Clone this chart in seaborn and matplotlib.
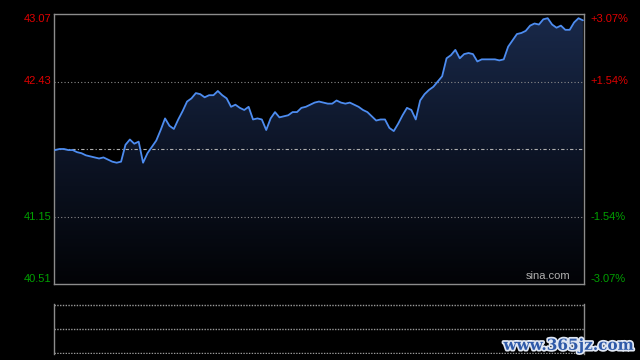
import numpy as np
import pandas as pd
import matplotlib
matplotlib.use("Agg")
import matplotlib.pyplot as plt
import matplotlib.patheffects as pe
import seaborn as sns
from matplotlib.colors import LinearSegmentedColormap

# ---- data ----
minutes = list(range(0, 241, 2))
prices = [
    41.78, 41.79, 41.79, 41.78, 41.78, 41.76, 41.75, 41.73, 41.72, 41.71,
    41.70, 41.71, 41.69, 41.67, 41.66, 41.67, 41.83, 41.88, 41.84, 41.86,
    41.66, 41.75, 41.81, 41.87, 41.97, 42.08, 42.01, 41.98, 42.07, 42.15,
    42.24, 42.27, 42.32, 42.31, 42.28, 42.30, 42.30, 42.34, 42.30, 42.27,
    42.19, 42.21, 42.18, 42.16, 42.19, 42.07, 42.08, 42.07, 41.97, 42.08,
    42.14, 42.09, 42.10, 42.11, 42.14, 42.14, 42.18, 42.19, 42.21, 42.23,
    42.24, 42.23, 42.22, 42.22, 42.25, 42.23, 42.22, 42.23, 42.21, 42.19,
    42.16, 42.14, 42.10, 42.06, 42.07, 42.07, 41.99, 41.96, 42.03, 42.11,
    42.18, 42.16, 42.07, 42.25, 42.31, 42.35, 42.38, 42.43, 42.48, 42.65,
    42.68, 42.73, 42.65, 42.69, 42.70, 42.69, 42.62, 42.64, 42.64, 42.64,
    42.64, 42.63, 42.64, 42.76, 42.82, 42.88, 42.89, 42.91, 42.96, 42.98,
    42.97, 43.02, 43.03, 42.97, 42.94, 42.96, 42.92, 42.92, 42.99, 43.03,
    43.01,
]
left_ticks = [43.07, 42.43, 41.79, 41.15, 40.51]
left_labels = ["43.07", "42.43", "", "41.15", "40.51"]
right_labels = ["+3.07%", "+1.54%", "", "-1.54%", "-3.07%"]
tick_colors = ["#e00000", "#e00000", None, "#00a000", "#00a000"]

df = pd.DataFrame({"minute": minutes, "price": prices})

sns.set_theme(style="dark")
plt.rcParams["font.family"] = ["Liberation Sans", "DejaVu Sans"]

fig = plt.figure(figsize=(6.4, 3.6), dpi=100, facecolor="black")
ax = fig.add_axes([54 / 640, 1 - 284 / 360, 530 / 640, 270 / 360])
ax2 = fig.add_axes([54 / 640, 1 - 354 / 360, 530 / 640, 50 / 360])

ymin, ymax = left_ticks[-1], left_ticks[0]
xmin, xmax = -0.5, 240.5

for a in (ax, ax2):
    a.set_facecolor("black")
    a.set_xticks([])
    a.set_yticks([])
    a.set_xlabel("")
    a.set_ylabel("")
    a.grid(False)

# gradient fill under the line (dark navy at top, fading to black)
cmap = LinearSegmentedColormap.from_list("g", ["#19294a", "#0d1527", "#020306"])
grad = np.linspace(0, 1, 256).reshape(-1, 1)
im = ax.imshow(grad, cmap=cmap, aspect="auto",
               extent=[xmin, xmax, ymin, ymax], origin="upper", zorder=1)
poly = ax.fill_between(df["minute"], df["price"], ymin, color="none", lw=0)
clip_path = poly.get_paths()[0]
im.set_clip_path(clip_path, transform=ax.transData)

sns.lineplot(data=df, x="minute", y="price", ax=ax, color="#4d8cf0",
             linewidth=1.3, zorder=3)

ax.set_xlim(xmin, xmax)
ax.set_ylim(ymin, ymax)
ax.set_xlabel("")
ax.set_ylabel("")

# grid lines
for v in (left_ticks[1], left_ticks[3]):
    ax.axhline(v, color="#8a8a8a", lw=0.8, ls=(0, (1, 2)), zorder=2)
ax.axhline(left_ticks[2], color="#b0b0b0", lw=0.8, ls=(0, (3, 2, 1, 2)), zorder=2)

for s in ax.spines.values():
    s.set_visible(True)
    s.set_color("#8c8c8c")
    s.set_linewidth(1.0)

# tick labels
for v, ll, rl, c in zip(left_ticks, left_labels, right_labels, tick_colors):
    if not ll:
        continue
    va = "center"
    if v == ymax:
        va = "top"
    elif v == ymin:
        va = "bottom"
    ax.text(-0.005, v, ll, transform=ax.get_yaxis_transform(), ha="right",
            va=va, color=c, fontsize=8)
    ax.text(1.012, v, rl, transform=ax.get_yaxis_transform(), ha="left",
            va=va, color=c, fontsize=8)

ax.text(0.975, 0.01, "sina.com", transform=ax.transAxes, ha="right",
        va="bottom", color="#b0b0b0", fontsize=8)

# lower panel
ax2.set_xlim(xmin, xmax)
ax2.set_ylim(0, 2)
for s in ("top", "bottom"):
    ax2.spines[s].set_visible(False)
for s in ("left", "right"):
    ax2.spines[s].set_visible(True)
    ax2.spines[s].set_color("#8c8c8c")
    ax2.spines[s].set_linewidth(1.0)
for v in (0.03, 1, 1.98):
    ax2.axhline(v, color="#9a9a9a", lw=1.0, ls=(0, (1, 1)))

# watermark
fig.text(0.99, 0.02, "www.365jz.com", ha="right", va="bottom",
         fontsize=11, fontweight="bold", family=["DejaVu Serif"],
         color="#2f5aa8",
         path_effects=[pe.withStroke(linewidth=2.5, foreground="#dfe6f2")])

fig.savefig("out.png", dpi=100, facecolor="black")
